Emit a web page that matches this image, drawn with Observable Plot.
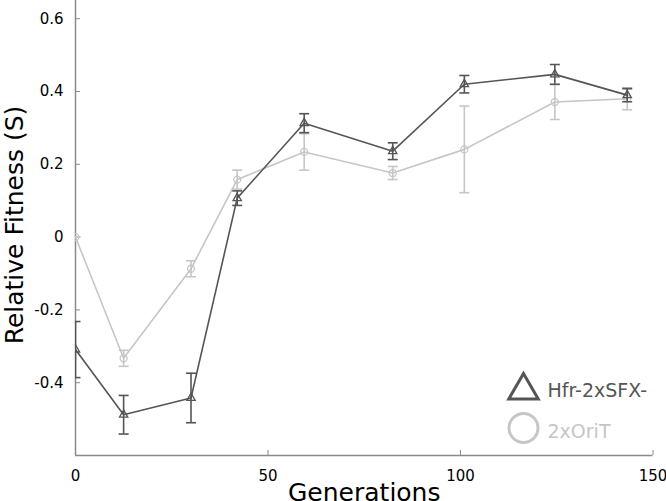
<!DOCTYPE html>
<html>
<head>
<meta charset="utf-8">
<script src="https://cdn.jsdelivr.net/npm/d3@7"></script>
<script src="https://cdn.jsdelivr.net/npm/@observablehq/plot@0.6"></script>
<style>
  html, body { margin: 0; padding: 0; background: #fff; }
  #chart svg { display: block; }
</style>
</head>
<body>
<div id="chart"></div>
<script>
// Data
const generations = [0, 12.5, 30, 42, 59.4, 82.4, 101, 124.5, 143.3];
const hfrMean = [-0.309, -0.488, -0.442, 0.107, 0.313, 0.236, 0.42, 0.447, 0.39];
const hfrErr  = [0.077, 0.053, 0.068, 0.02, 0.026, 0.023, 0.024, 0.027, 0.018];
const oriMean = [0, -0.333, -0.087, 0.158, 0.234, 0.176, 0.241, 0.371, 0.38];
const oriErr  = [0, 0.022, 0.022, 0.026, 0.05, 0.018, 0.119, 0.048, 0.03];
const seriesNames = ["Hfr-2xSFX-", "2xOriT"];
const xTicks = [0, 50, 100, 150];
const yTicks = [-0.4, -0.2, 0, 0.2, 0.4, 0.6];

const darkColor = "#555555";
const lightColor = "#c6c6c6";
const axisColor = "#8a8a8a";

const hfr = generations.map((g, i) => ({g, m: hfrMean[i], lo: hfrMean[i] - hfrErr[i], hi: hfrMean[i] + hfrErr[i]}));
const ori = generations.map((g, i) => ({g, m: oriMean[i], lo: oriMean[i] - oriErr[i], hi: oriMean[i] + oriErr[i]}));

// custom symbols
const capSymbol = { draw(ctx, size) { const w = Math.sqrt(size / Math.PI); ctx.moveTo(-w, 0); ctx.lineTo(w, 0); } };
const triSymbol = { draw(ctx, size) {
  const R = Math.sqrt(size / Math.PI);
  const sx = R * Math.sqrt(3) / 2;
  ctx.moveTo(0, -R); ctx.lineTo(sx, R / 2); ctx.lineTo(-sx, R / 2); ctx.closePath();
} };

function seriesMarks(data, color, symbol, r) {
  return [
    Plot.ruleX(data, {x: "g", y1: "lo", y2: "hi", stroke: color, strokeWidth: 1.6, clip: true}),
    Plot.dot(data, {x: "g", y: "lo", symbol: capSymbol, r: 5, stroke: color, strokeWidth: 1.6, clip: true}),
    Plot.dot(data, {x: "g", y: "hi", symbol: capSymbol, r: 5, stroke: color, strokeWidth: 1.6, clip: true}),
    Plot.line(data, {x: "g", y: "m", stroke: color, strokeWidth: 1.6, clip: true}),
    Plot.dot(data, {x: "g", y: "m", symbol, r, stroke: color, strokeWidth: 1.3, fill: "none", clip: true})
  ];
}

const plot = Plot.plot({
  width: 666,
  height: 501,
  marginLeft: 75,
  marginRight: 13.5,
  marginTop: 0,
  marginBottom: 46,
  style: {fontFamily: "DejaVu Sans", background: "#fff", overflow: "visible"},
  x: {domain: [0, 150]},
  y: {domain: [-0.6, 0.65]},
  marks: [
    // inward tick marks
    Plot.axisX({ticks: xTicks, tickSize: -5, stroke: axisColor, label: null, tickFormat: () => ""}),
    Plot.axisY({ticks: yTicks, tickSize: -5, stroke: axisColor, label: null, tickFormat: () => ""}),
    // tick labels
    Plot.axisX({ticks: xTicks, tickSize: 0, tickPadding: 15, fontSize: 15, color: "#000", label: null, tickFormat: d => String(d)}),
    Plot.axisY({ticks: yTicks, tickSize: 0, tickPadding: 12, fontSize: 15, color: "#000", label: null, tickFormat: d => String(d)}),
    Plot.ruleX([0], {stroke: axisColor, strokeWidth: 1.5}),
    Plot.ruleY([-0.6], {stroke: axisColor, strokeWidth: 1.5}),
    ...seriesMarks(ori, lightColor, "circle", 3.5),
    ...seriesMarks(hfr, darkColor, triSymbol, 4.8),
    // axis titles
    Plot.text(["Generations"], {frameAnchor: "bottom", dy: 37, lineAnchor: "middle", textAnchor: "middle", fontSize: 25, fill: "#000", text: d => d}),
    Plot.text(["Relative Fitness (S)"], {frameAnchor: "left", dx: -61, dy: -3, rotate: -90, textAnchor: "middle", lineAnchor: "middle", fontSize: 25, fill: "#000", text: d => d}),
    // legend
    Plot.dot([seriesNames[0]], {frameAnchor: "bottom-right", dx: -129.5, dy: -65, symbol: triSymbol, r: 17, stroke: darkColor, strokeWidth: 3, fill: "none"}),
    Plot.dot([seriesNames[1]], {frameAnchor: "bottom-right", dx: -129.5, dy: -27.5, symbol: "circle", r: 14.5, stroke: lightColor, strokeWidth: 3, fill: "none"}),
    Plot.text([seriesNames[0]], {frameAnchor: "bottom-right", dx: -105.5, dy: -65, textAnchor: "start", lineAnchor: "middle", fontSize: 19, fill: darkColor, text: d => d}),
    Plot.text([seriesNames[1]], {frameAnchor: "bottom-right", dx: -105.5, dy: -23.5, textAnchor: "start", lineAnchor: "middle", fontSize: 19, fill: lightColor, text: d => d})
  ]
});
document.getElementById("chart").appendChild(plot);
</script>
</body>
</html>
